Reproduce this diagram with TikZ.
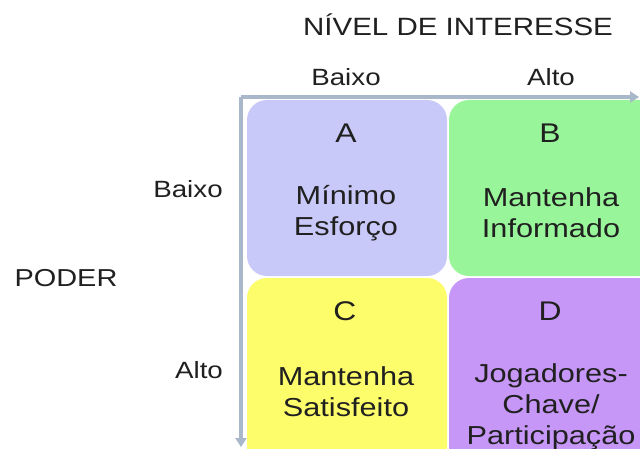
\documentclass[tikz,border=0pt]{standalone}
\usepackage{fontspec}
\newfontfamily\lblfont[FakeStretch=1.18]{Liberation Sans}
\usetikzlibrary{arrows.meta}
\definecolor{axisc}{HTML}{A9B7CB}
\definecolor{boxA}{HTML}{C9C9F9}
\definecolor{boxB}{HTML}{99F59A}
\definecolor{boxC}{HTML}{FDFD6B}
\definecolor{boxD}{HTML}{C697F7}
\definecolor{txt}{HTML}{202020}
\tikzset{
  quad/.style={rounded corners=20pt, inner sep=0pt, draw=none},
  lbl/.style={text=txt, font=\lblfont\fontsize{23.5}{27}\selectfont, inner sep=0pt},
  ttl/.style={text=txt, font=\lblfont\fontsize{25}{30}\selectfont, inner sep=0pt},
  qletter/.style={text=txt, font=\lblfont\fontsize{27}{30}\selectfont, inner sep=0pt},
  qbody/.style={text=txt, font=\lblfont\fontsize{26}{31}\selectfont, align=center, inner sep=0pt},
  axis/.style={draw=axisc, line width=3.5pt, -{Triangle[length=9pt,width=11pt]}}
}
\begin{document}
\begin{tikzpicture}[x=1pt,y=-1pt]
\useasboundingbox (0,0) rectangle (640,449);
\fill[white] (0,0) rectangle (640,449);
\begin{scope}
\clip (0,0) rectangle (640,449);
\node[quad, fill=boxA, minimum width=200pt, minimum height=176pt] (qa) at (347,188) {};
\node[quad, fill=boxB, minimum width=210pt, minimum height=176pt] (qb) at (554,188) {};
\node[quad, fill=boxC, minimum width=200pt, minimum height=190pt] (qc) at (347,373) {};
\node[quad, fill=boxD, minimum width=210pt, minimum height=190pt] (qd) at (554,373) {};
\coordinate (O) at (241,97);
\coordinate (X) at (639,97);
\coordinate (Y) at (241,447);
\draw[axis] (O) -- (X);
\draw[axis] (O) -- (Y);
\end{scope}
\node[ttl] (t) at (458,25) {NÍVEL DE INTERESSE};
\node[lbl] (ib) at (346,77) {Baixo};
\node[lbl] (ia) at (551,77) {Alto};
\node[lbl] (pb) at (188,189) {Baixo};
\node[lbl] (pa) at (199,370) {Alto};
\node[lbl, font=\lblfont\fontsize{24.5}{28}\selectfont] (p) at (66,278) {PODER};
\node[qletter] (la) at (346,133) {A};
\node[qletter] (lb) at (550,133) {B};
\node[qletter] (lc) at (345,311) {C};
\node[qletter] (ld) at (550,311) {D};
\node[qbody] (ba) at (346,213) {Mínimo\\Esforço};
\node[qbody] (bb) at (551,213) {Mantenha\\Informado};
\node[qbody] (bc) at (346,392) {Mantenha\\Satisfeito};
\node[qbody] (bd) at (551,407) {Jogadores-\\Chave/\\Participação};
\end{tikzpicture}
\end{document}
